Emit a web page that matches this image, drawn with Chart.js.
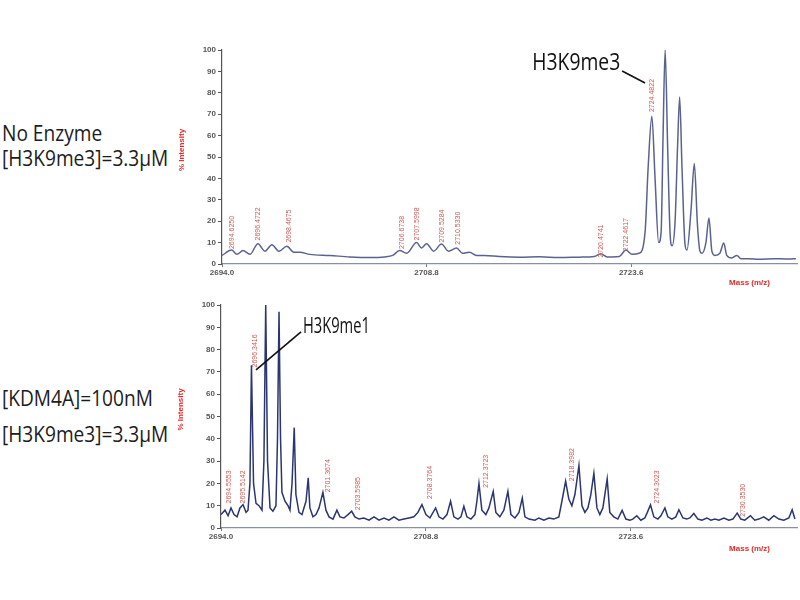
<!DOCTYPE html>
<html>
<head>
<meta charset="utf-8">
<script src="https://cdn.jsdelivr.net/npm/chart.js@4.4.1/dist/chart.umd.min.js"></script>
<style>
  body { margin: 0; width: 800px; height: 600px; background: #fff; position: relative; overflow: hidden; font-family: 'Open Sans', sans-serif; }
  .cond { position: absolute; left: 2px; font-size: 21px; line-height: 21px; color: #1c1c1c; transform: scaleX(0.91); transform-origin: 0 0; white-space: nowrap; }
  canvas { position: absolute; left: 160px; }
</style>
</head>
<body>
<div class="cond" style="top:123px">No Enzyme</div>
<div class="cond" style="top:148px">[H3K9me3]=3.3μM</div>
<div class="cond" style="top:388px">[KDM4A]=100nM</div>
<div class="cond" style="top:424px">[H3K9me3]=3.3μM</div>
<canvas id="topChart" width="640" height="250" style="top:40px"></canvas>
<canvas id="bottomChart" width="640" height="259" style="top:295px"></canvas>
<script>
// --- axis ---
const massMin = 2694.0;
const massMax = 2735.6;
const massTicks = [2694.0, 2708.8, 2723.6];

// --- top spectrum: no enzyme ---
const topMass = [
  2694.00, 2694.70, 2695.08, 2695.52, 2696.02, 2696.60, 2697.10, 2697.61, 2698.12, 2698.69,
  2699.20, 2699.63, 2700.35, 2701.80, 2703.24, 2704.69, 2705.77, 2706.35, 2706.85, 2707.36,
  2708.08, 2708.44, 2708.80, 2709.31, 2709.88, 2710.39, 2710.97, 2711.40, 2711.91, 2712.41,
  2712.99, 2714.07, 2715.52, 2716.96, 2718.40, 2719.85, 2720.93, 2721.41, 2721.87, 2722.74,
  2723.22, 2723.67, 2724.18, 2724.61, 2724.83, 2725.10, 2725.33, 2725.59, 2725.77, 2725.91,
  2726.06, 2726.24, 2726.42, 2726.56, 2726.78, 2726.96, 2727.11, 2727.28, 2727.50, 2727.64,
  2727.93, 2728.17, 2728.40, 2728.58, 2728.73, 2729.01, 2729.23, 2729.44, 2729.66, 2730.02,
  2730.30, 2730.52, 2730.88, 2731.25, 2731.54, 2732.12, 2732.84, 2733.93, 2735.01, 2735.52
];
const topIntensity = [
  4, 6.5, 4.5, 6.3, 4.5, 9.5, 6, 9.0, 6, 8.3,
  5.5, 5.5, 4.5, 4, 3.3, 3, 3.3, 4, 6.3, 5,
  10, 7.5, 9.5, 6, 9.3, 6, 7.5, 5, 5.5, 4,
  4, 3.5, 3.2, 3.4, 3.0, 3.2, 3.5, 4.8, 3.3, 3.5,
  6.5, 4.5, 5, 15, 45, 69, 40, 10, 15, 60,
  100, 55, 14, 8.5, 20, 55, 78, 45, 9, 6.5,
  25, 47, 18, 6, 5, 10, 21.5, 6, 4, 5,
  9.8, 4, 2.8, 4, 2.5, 2.5, 2.2, 2.5, 2.3, 2.5
];
const topPeakText = ['2694.6250', '2696.4722', '2698.4675', '2706.6738', '2707.5998', '2709.5284', '2710.5330', '2720.4741', '2722.4617', '2724.4822'];
const topPeakMass = [2694.70, 2696.60, 2698.85, 2707.00, 2708.08, 2709.92, 2711.05, 2721.41, 2723.22, 2725.10];
const topPeakBase = [7, 11, 10, 7, 11, 10, 9, 3, 6, 71];

// --- bottom spectrum: KDM4A ---
const bottomMass = [
  2694.00, 2694.29, 2694.51, 2694.72, 2694.94, 2695.16, 2695.37, 2695.59, 2695.81, 2695.95,
  2696.09, 2696.20, 2696.35, 2696.53, 2696.74, 2696.96, 2697.10, 2697.23, 2697.36, 2697.54,
  2697.75, 2697.97, 2698.08, 2698.19, 2698.30, 2698.40, 2698.62, 2698.84, 2698.98, 2699.13,
  2699.29, 2699.41, 2699.63, 2699.85, 2699.99, 2700.14, 2700.30, 2700.42, 2700.64, 2700.86,
  2701.08, 2701.36, 2701.58, 2701.80, 2702.09, 2702.37, 2702.59, 2702.88, 2703.17, 2703.44,
  2703.67, 2703.96, 2704.32, 2704.69, 2705.05, 2705.41, 2705.77, 2706.13, 2706.49, 2706.85,
  2707.21, 2707.57, 2707.93, 2708.22, 2708.51, 2708.80, 2709.09, 2709.50, 2709.74, 2710.03,
  2710.32, 2710.58, 2710.82, 2711.11, 2711.33, 2711.54, 2711.76, 2712.05, 2712.34, 2712.48,
  2712.63, 2712.84, 2713.13, 2713.35, 2713.66, 2713.85, 2714.14, 2714.43, 2714.72, 2714.94,
  2715.23, 2715.52, 2715.76, 2715.95, 2716.24, 2716.67, 2716.96, 2717.32, 2717.68, 2718.04,
  2718.40, 2718.62, 2718.89, 2719.12, 2719.34, 2719.56, 2719.85, 2720.07, 2720.28, 2720.50,
  2720.71, 2720.93, 2721.15, 2721.36, 2721.58, 2721.89, 2722.08, 2722.37, 2722.66, 2722.97,
  2723.24, 2723.53, 2723.74, 2724.03, 2724.32, 2724.61, 2724.79, 2725.02, 2725.26, 2725.55,
  2725.77, 2726.06, 2726.27, 2726.56, 2726.85, 2727.07, 2727.36, 2727.64, 2727.86, 2728.15,
  2728.44, 2728.73, 2729.09, 2729.38, 2729.67, 2729.96, 2730.32, 2730.68, 2730.97, 2731.28,
  2731.54, 2731.83, 2732.24, 2732.55, 2732.84, 2733.20, 2733.56, 2733.93, 2734.29, 2734.65,
  2735.01, 2735.25, 2735.45
];
const bottomIntensity = [
  6, 8, 5.5, 9, 6, 5, 9, 10.5, 7, 8,
  20, 73, 20, 11, 10, 8, 30, 100, 30, 9,
  7.5, 10, 40, 97, 40, 16, 12, 10, 8, 20,
  45, 15, 7, 6, 9, 12, 22.5, 9, 5, 6,
  9, 16, 8, 5, 4, 8, 5, 4.5, 6, 7.5,
  5, 4, 4.5, 3.5, 5, 3.5, 4.5, 3.5, 5, 3.5,
  4, 4.5, 5, 7, 10.5, 6, 4.5, 9, 5, 4,
  6, 12, 5, 4, 5, 9.7, 5, 4, 6, 12,
  20, 8, 6, 9, 16.4, 7, 5, 8, 16.4, 6,
  4.5, 7, 13.4, 5, 4, 3.5, 4.5, 3.5, 4.5, 4,
  5, 12, 21, 13, 10, 15, 28, 10, 7, 9,
  15, 24.5, 9, 6, 9, 22, 7, 5, 4, 7.9,
  4, 3.5, 4, 5.5, 3.5, 4.5, 7, 10.4, 5, 4,
  5.5, 9, 5, 4, 5, 8.2, 4.5, 4, 4.5, 6.5,
  4, 3.5, 4.5, 3.5, 4, 3.5, 4.5, 3.5, 4, 6.7,
  4, 3.5, 5.5, 3.5, 4, 5, 3.5, 5.5, 4, 3.5,
  4.5, 8.2, 4
];
const bottomPeakText = ['2694.5553', '2695.5142', '2696.3416', '2701.3674', '2703.5985', '2708.3764', '2712.3723', '2718.3982', '2724.3023', '2730.3530'];
const bottomPeakMass = [2694.60, 2695.61, 2696.45, 2701.75, 2703.91, 2709.09, 2713.13, 2719.32, 2725.46, 2731.71];
const bottomPeakBase = [11, 11, 72, 16, 8, 13, 18, 21, 11, 5];

const tickFont = { family: '"Liberation Sans", Arial', size: 8, weight: 'bold' };

// rotated peak labels, axis titles and the tagged peak with its leader line
const notes = {
  id: 'notes',
  afterDraw(chart, args, o) {
    const { ctx, chartArea: a, scales: { x, y } } = chart;
    ctx.save();
    ctx.font = '7px "Liberation Sans", Arial';
    ctx.fillStyle = '#cc5b55';
    ctx.textAlign = 'left';
    ctx.textBaseline = 'middle';
    o.text.forEach((t, i) => {
      ctx.save();
      ctx.translate(x.getPixelForValue(o.mass[i]), y.getPixelForValue(o.base[i]));
      ctx.rotate(-Math.PI / 2);
      ctx.fillText(t, 0, 0);
      ctx.restore();
    });

    ctx.fillStyle = '#e02b2b';
    ctx.font = 'bold 8px "Liberation Sans", Arial';
    ctx.save();
    ctx.translate(a.left - 40, (a.top + a.bottom) / 2 - 7);
    ctx.rotate(-Math.PI / 2);
    ctx.textAlign = 'center';
    ctx.fillText('% Intensity', 0, 0);
    ctx.restore();
    ctx.textAlign = 'right';
    ctx.fillText('Mass (m/z)', a.right - 27, a.bottom + o.massTitleGap);

    const t = o.tag;
    ctx.strokeStyle = '#111';
    ctx.lineWidth = 1.6;
    ctx.beginPath();
    ctx.moveTo(x.getPixelForValue(t.from[0]), y.getPixelForValue(t.from[1]));
    ctx.lineTo(x.getPixelForValue(t.to[0]), y.getPixelForValue(t.to[1]));
    ctx.stroke();
    ctx.fillStyle = '#111';
    ctx.font = t.size + 'px "Open Sans"';
    ctx.textAlign = 'left';
    ctx.textBaseline = 'middle';
    ctx.translate(x.getPixelForValue(t.at[0]), y.getPixelForValue(t.at[1]));
    ctx.scale(t.squeeze, 1);
    ctx.fillText(t.label, 0, 0);
    ctx.restore();
  }
};

function spectrumChart(id, mass, intensity, color, smooth, lineWidth, yWidth, notesOpts) {
  return new Chart(document.getElementById(id), {
    type: 'line',
    data: {
      datasets: [{
        data: mass.map((m, i) => ({ x: m, y: intensity[i] })),
        borderColor: color,
        borderWidth: lineWidth,
        pointRadius: 0,
        fill: false,
        tension: smooth ? 0.4 : 0,
        cubicInterpolationMode: smooth ? 'monotone' : 'default'
      }]
    },
    options: {
      responsive: false,
      animation: false,
      layout: { padding: { top: 10, right: 3 } },
      plugins: { legend: { display: false }, tooltip: { enabled: false }, notes: notesOpts },
      scales: {
        x: {
          type: 'linear', min: massMin, max: massMax,
          afterBuildTicks: s => { s.ticks = massTicks.map(v => ({ value: v })); },
          afterFit: s => { s.height = 26; },
          ticks: { callback: v => v.toFixed(1), font: tickFont, color: '#555', maxRotation: 0, autoSkip: false, padding: 1 },
          grid: { drawOnChartArea: false, drawTicks: true, tickLength: 3, color: '#777' },
          border: { color: '#8a90a4', width: 1.2 }
        },
        y: {
          min: 0, max: 100,
          afterFit: s => { s.width = yWidth; },
          ticks: { stepSize: 10, font: tickFont, color: '#555', padding: 2 },
          grid: { drawOnChartArea: false, drawTicks: true, tickLength: 4, color: '#555' },
          border: { color: '#555', width: 1.2 }
        }
      }
    },
    plugins: [notes]
  });
}

spectrumChart('topChart', topMass, topIntensity, '#5a6390', true, 1.5, 62, {
  text: topPeakText, mass: topPeakMass, base: topPeakBase, massTitleGap: 19,
  tag: { label: 'H3K9me3', at: [2716.45, 93.9], from: [2722.95, 90.2], to: [2724.61, 84.6], size: 23, squeeze: 0.84 }
});
spectrumChart('bottomChart', bottomMass, bottomIntensity, '#2a3572', false, 1.5, 61, {
  text: bottomPeakText, mass: bottomPeakMass, base: bottomPeakBase, massTitleGap: 21,
  tag: { label: 'H3K9me1', at: [2699.92, 90.1], from: [2699.78, 87.9], to: [2696.53, 70.9], size: 21, squeeze: 0.7 }
});
</script>
</body>
</html>
